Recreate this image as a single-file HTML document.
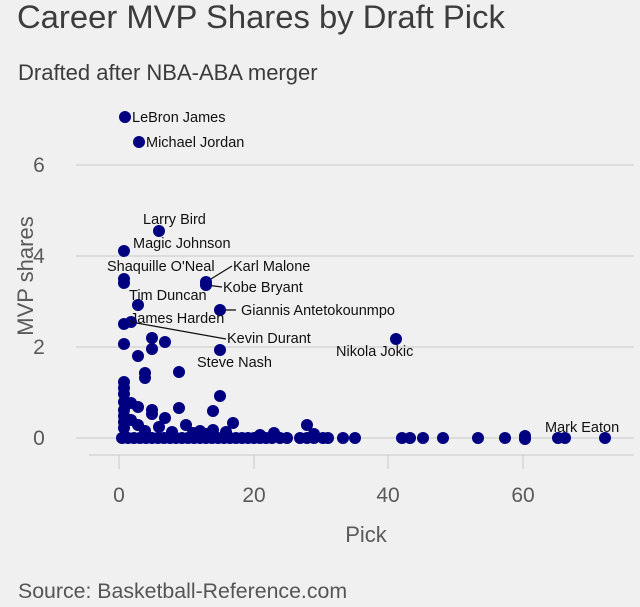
<!DOCTYPE html>
<html><head><meta charset="utf-8"><style>
html,body{margin:0;padding:0;background:#f0f0f0;}
svg{display:block;font-family:"Liberation Sans",sans-serif;}
</style></head><body>
<svg width="640" height="607" viewBox="0 0 640 607">
<rect width="640" height="607" fill="#f0f0f0"/>
<text x="17" y="28" font-size="32.8" fill="#3c3c3c">Career MVP Shares by Draft Pick</text>
<text x="18" y="80" font-size="22" fill="#3c3c3c">Drafted after NBA-ABA merger</text>
<g stroke="#c8c8c8" stroke-width="1">
<line x1="76" y1="165" x2="634" y2="165"/>
<line x1="76" y1="256" x2="634" y2="256"/>
<line x1="76" y1="347" x2="634" y2="347"/>
<line x1="76" y1="438" x2="634" y2="438"/>
<line x1="89" y1="455" x2="634" y2="455"/>
<line x1="119" y1="455" x2="119" y2="469"/>
<line x1="254" y1="455" x2="254" y2="469"/>
<line x1="388" y1="455" x2="388" y2="469"/>
<line x1="523" y1="455" x2="523" y2="469"/>
</g>
<g font-size="21" fill="#5a5a5a" text-anchor="middle">
<text x="39" y="445">0</text><text x="39" y="354">2</text><text x="39" y="263">4</text><text x="39" y="172">6</text>
<text x="119" y="502">0</text><text x="254" y="502">20</text><text x="388" y="502">40</text><text x="523" y="502">60</text>
<text x="366" y="542" font-size="22">Pick</text>
<text transform="translate(33,276) rotate(-90)" font-size="22">MVP shares</text>
</g>
<text x="18" y="598" font-size="21.3" fill="#555">Source: Basketball-Reference.com</text>
<g stroke="#111" stroke-width="1.3">
<line x1="206" y1="282" x2="232" y2="266"/>
<line x1="206" y1="285" x2="222" y2="287"/>
<line x1="220" y1="310" x2="236" y2="310"/>
<line x1="131" y1="322" x2="226" y2="339"/>
</g>
<g fill="#000080">
<circle cx="125" cy="117" r="6"/><circle cx="139" cy="142" r="6"/><circle cx="159" cy="231" r="6"/><circle cx="124" cy="251" r="6"/>
<circle cx="124" cy="279" r="6"/><circle cx="124" cy="283" r="6"/><circle cx="206" cy="282" r="6"/><circle cx="206" cy="285" r="6"/>
<circle cx="138" cy="305" r="6"/><circle cx="220" cy="310" r="6"/><circle cx="124" cy="324" r="6"/><circle cx="131" cy="322" r="6"/>
<circle cx="152" cy="338" r="6"/><circle cx="165" cy="342" r="6"/><circle cx="124" cy="344" r="6"/><circle cx="152" cy="349" r="6"/>
<circle cx="220" cy="350" r="6"/><circle cx="138" cy="356" r="6"/><circle cx="396" cy="339" r="6"/>
<circle cx="145" cy="373" r="6"/><circle cx="145" cy="378" r="6"/><circle cx="179" cy="372" r="6"/>
<circle cx="124" cy="382" r="6"/><circle cx="124" cy="388" r="6"/><circle cx="124" cy="394" r="6"/><circle cx="220" cy="396" r="6"/>
<circle cx="124" cy="402" r="6"/><circle cx="131" cy="403" r="6"/><circle cx="138" cy="407" r="6"/><circle cx="124" cy="410" r="6"/>
<circle cx="152" cy="410" r="6"/><circle cx="152" cy="414" r="6"/><circle cx="179" cy="408" r="6"/><circle cx="213" cy="411" r="6"/>
<circle cx="124" cy="416" r="6"/><circle cx="165" cy="418" r="6"/><circle cx="124" cy="422" r="6"/><circle cx="131" cy="420" r="6"/>
<circle cx="138" cy="425" r="6"/><circle cx="124" cy="428" r="6"/><circle cx="159" cy="427" r="6"/><circle cx="186" cy="425" r="6"/>
<circle cx="233" cy="423" r="6"/><circle cx="172" cy="432" r="6"/><circle cx="145" cy="431" r="6"/><circle cx="200" cy="431" r="6"/>
<circle cx="213" cy="430" r="6"/><circle cx="226" cy="432" r="6"/><circle cx="206" cy="434" r="6"/><circle cx="307" cy="425" r="6"/>
<circle cx="274" cy="433" r="6"/><circle cx="193" cy="433" r="6"/><circle cx="260" cy="435" r="6"/><circle cx="314" cy="434" r="6"/>
</g>
<g fill="#000080">
<circle cx="122" cy="438" r="6"/><circle cx="128" cy="438" r="6"/><circle cx="134" cy="438" r="6"/><circle cx="140" cy="438" r="6"/>
<circle cx="146" cy="438" r="6"/><circle cx="152" cy="438" r="6"/><circle cx="158" cy="438" r="6"/><circle cx="164" cy="438" r="6"/>
<circle cx="170" cy="438" r="6"/><circle cx="176" cy="438" r="6"/><circle cx="182" cy="438" r="6"/><circle cx="188" cy="438" r="6"/>
<circle cx="194" cy="438" r="6"/><circle cx="200" cy="438" r="6"/><circle cx="206" cy="438" r="6"/><circle cx="212" cy="438" r="6"/>
<circle cx="218" cy="438" r="6"/><circle cx="224" cy="438" r="6"/><circle cx="230" cy="438" r="6"/><circle cx="236" cy="438" r="6"/>
<circle cx="242" cy="438" r="6"/><circle cx="248" cy="438" r="6"/><circle cx="254" cy="438" r="6"/><circle cx="260" cy="438" r="6"/>
<circle cx="266" cy="438" r="6"/><circle cx="272" cy="438" r="6"/><circle cx="280" cy="438" r="6"/><circle cx="287" cy="438" r="6"/>
<circle cx="300" cy="438" r="6"/><circle cx="307" cy="438" r="6"/><circle cx="314" cy="438" r="6"/><circle cx="323" cy="438" r="6"/>
<circle cx="328" cy="438" r="6"/><circle cx="343" cy="438" r="6"/><circle cx="355" cy="438" r="6"/><circle cx="402" cy="438" r="6"/>
<circle cx="410" cy="438" r="6"/><circle cx="423" cy="438" r="6"/><circle cx="443" cy="438" r="6"/><circle cx="478" cy="438" r="6"/>
<circle cx="505" cy="438" r="6"/><circle cx="525" cy="436" r="6"/><circle cx="525" cy="439" r="6"/><circle cx="558" cy="438" r="6"/>
<circle cx="565" cy="438" r="6"/><circle cx="605" cy="438" r="6"/>
</g>
<g font-size="14.5" fill="#111">
<text x="132" y="122">LeBron James</text>
<text x="146" y="147">Michael Jordan</text>
<text x="143" y="224">Larry Bird</text>
<text x="133" y="248">Magic Johnson</text>
<text x="107" y="271">Shaquille O'Neal</text>
<text x="233" y="271">Karl Malone</text>
<text x="223" y="292">Kobe Bryant</text>
<text x="129" y="300">Tim Duncan</text>
<text x="241" y="315">Giannis Antetokounmpo</text>
<text x="130" y="323">James Harden</text>
<text x="227" y="343">Kevin Durant</text>
<text x="197" y="367">Steve Nash</text>
<text x="336" y="356">Nikola Jokic</text>
<text x="545" y="432">Mark Eaton</text>
</g>
</svg>
</body></html>
